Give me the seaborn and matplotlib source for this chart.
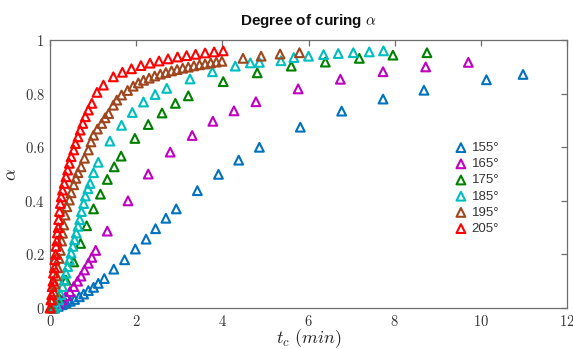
import matplotlib
matplotlib.use("Agg")
import matplotlib.pyplot as plt
import seaborn as sns
import numpy as np

# ---------------- data ----------------
labels = ["155°", "165°", "175°", "185°", "195°", "205°"]

t155 = [0.10, 0.19, 0.28, 0.37, 0.47, 0.57, 0.68, 0.78, 0.89, 1.01, 1.12, 1.26, 1.48, 1.73, 1.98,
        2.23, 2.45, 2.69, 2.93, 3.42, 3.91, 4.38, 4.86, 5.81, 6.77, 7.73, 8.68, 10.13, 10.98]
a155 = [0.000, 0.006, 0.012, 0.019, 0.025, 0.032, 0.042, 0.052, 0.065, 0.077, 0.092, 0.110, 0.145, 0.180, 0.220,
        0.257, 0.296, 0.335, 0.370, 0.438, 0.499, 0.552, 0.600, 0.675, 0.735, 0.780, 0.813, 0.852, 0.872]

t165 = [0.10, 0.20, 0.29, 0.37, 0.46, 0.55, 0.64, 0.72, 0.80, 0.89, 0.97, 1.06, 1.33, 1.81, 2.28,
        2.79, 3.30, 3.78, 4.27, 4.78, 5.76, 6.74, 7.73, 8.72, 9.71]
a165 = [0.000, 0.015, 0.030, 0.045, 0.061, 0.080, 0.100, 0.119, 0.142, 0.167, 0.189, 0.215, 0.287, 0.400, 0.500,
        0.582, 0.644, 0.697, 0.736, 0.770, 0.818, 0.854, 0.882, 0.900, 0.917]

t175 = [0.05, 0.20, 0.37, 0.55, 0.71, 0.85, 1.01, 1.17, 1.33, 1.49, 1.65, 1.97, 2.28, 2.60, 2.91,
        3.21, 4.02, 4.81, 5.60, 6.39, 7.18, 7.96, 8.75]
a175 = [0.000, 0.040, 0.104, 0.172, 0.241, 0.307, 0.370, 0.425, 0.480, 0.527, 0.567, 0.633, 0.685, 0.728, 0.764,
        0.792, 0.845, 0.878, 0.903, 0.918, 0.932, 0.944, 0.953]

t185 = [0.10, 0.15, 0.20, 0.25, 0.29, 0.33, 0.37, 0.41, 0.45, 0.49, 0.53, 0.57, 0.61, 0.65, 0.69,
        0.73, 0.78, 0.82, 0.88, 0.93, 1.01, 1.12, 1.39, 1.66, 1.91, 2.17, 2.44, 2.71, 3.25, 3.77,
        4.30, 4.65, 4.86, 5.36, 5.66, 6.00, 6.35, 6.69, 7.04, 7.41, 7.74]
a185 = [0.000, 0.010, 0.030, 0.050, 0.080, 0.105, 0.130, 0.155, 0.180, 0.205, 0.230, 0.255, 0.280, 0.305, 0.330,
        0.360, 0.390, 0.418, 0.445, 0.465, 0.505, 0.544, 0.623, 0.682, 0.730, 0.769, 0.797, 0.820, 0.855, 0.882,
        0.903, 0.915, 0.917, 0.923, 0.935, 0.940, 0.946, 0.950, 0.953, 0.956, 0.960]

t195 = [0.02, 0.06, 0.09, 0.12, 0.15, 0.18, 0.21, 0.24, 0.27, 0.29, 0.32, 0.35, 0.39, 0.45, 0.49,
        0.55, 0.60, 0.65, 0.72, 0.80, 0.89, 0.95, 1.01, 1.10, 1.20, 1.28, 1.36, 1.47, 1.55, 1.66,
        1.80, 1.93, 2.05, 2.17, 2.30, 2.43, 2.56, 2.69, 2.82, 2.95, 3.08, 3.21, 3.34, 3.47, 3.60,
        3.73, 3.86, 3.99, 4.48, 4.90, 5.34, 5.79]
a195 = [0.000, 0.030, 0.060, 0.090, 0.120, 0.150, 0.185, 0.215, 0.250, 0.279, 0.310, 0.347, 0.378, 0.403, 0.430,
        0.460, 0.484, 0.505, 0.527, 0.559, 0.590, 0.620, 0.645, 0.668, 0.689, 0.710, 0.726, 0.757, 0.776, 0.795,
        0.812, 0.828, 0.840, 0.850, 0.858, 0.866, 0.873, 0.879, 0.885, 0.890, 0.895, 0.899, 0.904, 0.908, 0.911,
        0.915, 0.918, 0.921, 0.932, 0.940, 0.948, 0.953]

t205 = [0.00, 0.02, 0.04, 0.05, 0.07, 0.08, 0.10, 0.11, 0.13, 0.14, 0.16, 0.17, 0.19, 0.20, 0.22,
        0.24, 0.26, 0.29, 0.33, 0.37, 0.41, 0.45, 0.49, 0.55, 0.59, 0.65, 0.70, 0.76, 0.82, 0.89,
        0.97, 1.09, 1.24, 1.47, 1.68, 1.89, 2.11, 2.32, 2.53, 2.74, 2.96, 3.17, 3.38, 3.60, 3.81, 4.02]
a205 = [0.000, 0.030, 0.050, 0.080, 0.100, 0.130, 0.150, 0.180, 0.200, 0.230, 0.250, 0.280, 0.300, 0.330, 0.360,
        0.390, 0.415, 0.440, 0.465, 0.490, 0.515, 0.540, 0.565, 0.590, 0.614, 0.639, 0.664, 0.689, 0.714, 0.739,
        0.764, 0.805, 0.832, 0.863, 0.880, 0.893, 0.905, 0.914, 0.922, 0.930, 0.937, 0.942, 0.947, 0.952, 0.956, 0.960]

xticks = [0, 2, 4, 6, 8, 10, 12]
yticks = [0, 0.2, 0.4, 0.6, 0.8, 1]
ytick_labels = ["0", "0.2", "0.4", "0.6", "0.8", "1"]

series_t = [t155, t165, t175, t185, t195, t205]
series_a = [a155, a165, a175, a185, a195, a205]
colors = ["#0072BD", "#C000C0", "#008000", "#00BEBE", "#A0461E", "#FF0000"]

# ---------------- plot ----------------
sns.set_theme(style="white")
plt.rcParams["mathtext.fontset"] = "cm"
plt.rcParams["font.family"] = ["Liberation Sans", "DejaVu Sans"]

fig = plt.figure(figsize=(5.73, 3.49), dpi=100)
ax = fig.add_axes([0.0873, 0.1175, 0.9022, 0.7675])

for tt, aa, col, lab in zip(series_t, series_a, colors, labels):
    sns.scatterplot(x=tt, y=aa, ax=ax, marker="^", s=40, color=col,
                    facecolor="none", edgecolor=col, linewidth=1.5, label=lab,
                    clip_on=False, zorder=3)

ax.set_xlim(0, 12)
ax.set_ylim(0, 1)
ax.set_xticks(xticks)
ax.set_xticklabels([f"${v}$" for v in xticks], fontsize=10.5)
ax.set_yticks(yticks)
ax.set_yticklabels([f"${v}$" for v in ytick_labels], fontsize=10.5)

for sp in ax.spines.values():
    sp.set_color("#6e6e6e")
    sp.set_linewidth(0.9)
ax.tick_params(direction="in", length=4, width=0.9, color="#6e6e6e",
               top=True, right=True, labelcolor="#333333", pad=4)

ax.set_xlabel(r"$t_{c}\ (min)$", fontsize=13, color="#222222", labelpad=-1)
ax.set_ylabel(r"$\alpha$", fontsize=13, color="#222222", labelpad=3)
ax.set_title(r"Degree of curing $\alpha$", fontsize=11, fontweight="bold",
             color="#111111", pad=11)

leg = ax.legend(loc="upper left", bbox_to_anchor=(0.768, 0.64), frameon=False,
                fontsize=9.5, handletextpad=0.15, labelspacing=0.3,
                borderaxespad=0, handlelength=1.3)
for txt in leg.get_texts():
    txt.set_color("#333333")

fig.savefig("out.png", dpi=100)
